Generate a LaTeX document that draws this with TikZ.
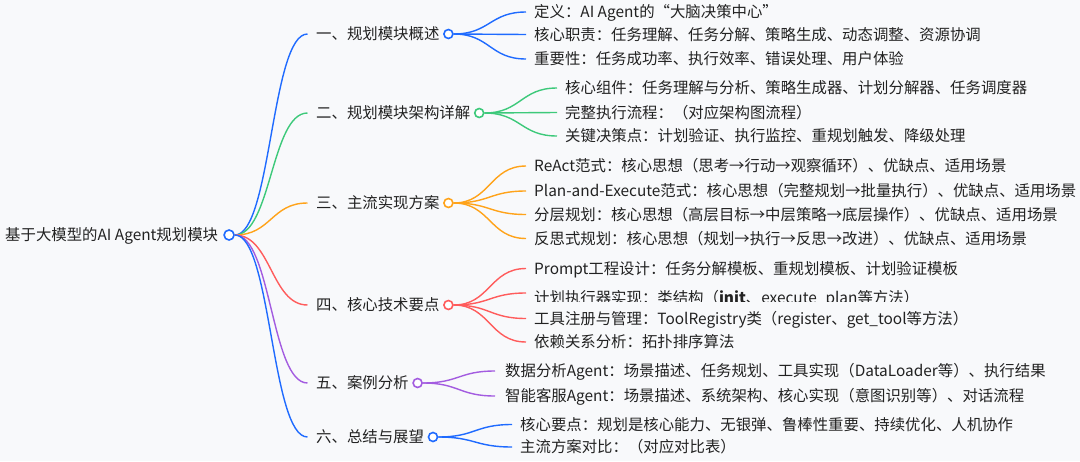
\documentclass[tikz,border=0pt]{standalone}
\usepackage{fontspec}
\setmainfont{Noto Sans CJK SC}
\usetikzlibrary{positioning,calc}
\definecolor{bg}{HTML}{F8F9FB}
\definecolor{ink}{HTML}{222222}
\definecolor{cb}{HTML}{1F6BFF}
\definecolor{cg}{HTML}{3DC97A}
\definecolor{co}{HTML}{FFA31A}
\definecolor{cr}{HTML}{FF5C5C}
\definecolor{cp}{HTML}{A35CE0}
\newcommand\mmlink[3]{\draw[link=#1] let \p1=(#2), \p2=(#3) in (\p1) .. controls ({(\x1+\x2)/2},\y1) and ({(\x1+\x2)/2},\y2) .. (\p2);}
\begin{document}
\begin{tikzpicture}[x=1pt,y=-1pt,
  txt/.style={anchor=west, inner sep=0pt, text height=13pt, text depth=1.5pt, font=\fontsize{15.4}{18}\selectfont, text=ink},
  dot/.style={circle, draw=#1, fill=white, line width=1.6pt, minimum size=9pt, inner sep=0pt},
  link/.style={draw=#1, line width=1.4pt}]
\fill[bg] (0,0) rectangle (1080,461);
\useasboundingbox (0,0) rectangle (1080,461);

% root
\node[txt] (root) at (5,235) {基于大模型的AI Agent规划模块};
\node[dot=cb, minimum size=10pt, right=5pt of root] (rc) {};

% level 1
\node[txt] (n1) at (316,34) {一、规划模块概述};
\node[dot=cb, right=3.5pt of n1] (c1) {};
\node[txt] (n2) at (316,113) {二、规划模块架构详解};
\node[dot=cg, right=3.5pt of n2] (c2) {};
\node[txt] (n3) at (316,203) {三、主流实现方案};
\node[dot=co, right=3.5pt of n3] (c3) {};
\node[txt] (n4) at (316,305) {四、核心技术要点};
\node[dot=cr, right=3.5pt of n4] (c4) {};
\node[txt] (n5) at (316,383) {五、案例分析};
\node[dot=cp, right=3.5pt of n5] (c5) {};
\node[txt] (n6) at (316,437) {六、总结与展望};
\node[dot=cb, right=3.5pt of n6] (c6) {};
\foreach \i in {1,...,6} {\coordinate (s\i) at ([xshift=-8.5pt]n\i.west);}

\mmlink{cb}{rc.east}{s1}
\mmlink{cg}{rc.east}{s2}
\mmlink{co}{rc.east}{s3}
\mmlink{cr}{rc.east}{s4}
\mmlink{cp}{rc.east}{s5}
\mmlink{cb}{rc.east}{s6}

% group 1
\node[txt] (l11) at (534,12) {定义：AI Agent的“大脑决策中心”};
\node[txt] (l12) at (534,34.5) {核心职责：任务理解、任务分解、策略生成、动态调整、资源协调};
\node[txt] (l13) at (534,59) {重要性：任务成功率、执行效率、错误处理、用户体验};
% group 2
\node[txt] (l21) at (565,88) {核心组件：任务理解与分析、策略生成器、计划分解器、任务调度器};
\node[txt] (l22) at (565,112.5) {完整执行流程：（对应架构图流程）};
\node[txt] (l23) at (565,136) {关键决策点：计划验证、执行监控、重规划触发、降级处理};
% group 3
\node[txt] (l31) at (534,166) {ReAct范式：核心思想（思考→行动→观察循环）、优缺点、适用场景};
\node[txt] (l32) at (534,191) {Plan-and-Execute范式：核心思想（完整规划→批量执行）、优缺点、适用场景};
\node[txt] (l33) at (534,214.5) {分层规划：核心思想（高层目标→中层策略→底层操作）、优缺点、适用场景};
\node[txt] (l34) at (534,238.5) {反思式规划：核心思想（规划→执行→反思→改进）、优缺点、适用场景};
% group 4
\node[txt] (l41) at (534,268.5) {Prompt工程设计：任务分解模板、重规划模板、计划验证模板};
\begin{scope}
\clip (520,280) rectangle (1000,301.5);
\node[txt] (l42) at (534,297.5) {计划执行器实现：类结构（\textbf{init}、execute\_plan等方法）};
\end{scope}
\node[txt] (l43) at (534,318.5) {工具注册与管理：ToolRegistry类（register、get\_tool等方法）};
\node[txt] (l44) at (534,342) {依赖关系分析：拓扑排序算法};
% group 5
\node[txt] (l51) at (505,371) {数据分析Agent：场景描述、任务规划、工具实现（DataLoader等）、执行结果};
\node[txt] (l52) at (505,396) {智能客服Agent：场景描述、系统架构、核心实现（意图识别等）、对话流程};
% group 6
\node[txt] (l61) at (520,424.5) {核心要点：规划是核心能力、无银弹、鲁棒性重要、持续优化、人机协作};
\node[txt] (l62) at (520,447) {主流方案对比：（对应对比表）};

% leaf line ends
\foreach \n in {11,12,13,21,22,23,31,32,33,34,41,43,44,61,62} {\coordinate (e\n) at ([xshift=-8pt]l\n.west);}
\foreach \n in {51,52} {\coordinate (e\n) at ([xshift=-10pt]l\n.west);}
\coordinate (e42) at ([xshift=-8pt]l42.west |- 0,293);

\mmlink{cb}{c1.east}{e11}
\mmlink{cb}{c1.east}{e12}
\mmlink{cb}{c1.east}{e13}
\mmlink{cg}{c2.east}{e21}
\mmlink{cg}{c2.east}{e22}
\mmlink{cg}{c2.east}{e23}
\mmlink{co}{c3.east}{e31}
\mmlink{co}{c3.east}{e32}
\mmlink{co}{c3.east}{e33}
\mmlink{co}{c3.east}{e34}
\mmlink{cr}{c4.east}{e41}
\mmlink{cr}{c4.east}{e42}
\mmlink{cr}{c4.east}{e43}
\mmlink{cr}{c4.east}{e44}
\mmlink{cp}{c5.east}{e51}
\mmlink{cp}{c5.east}{e52}
\mmlink{cb}{c6.east}{e61}
\mmlink{cb}{c6.east}{e62}
\end{tikzpicture}
\end{document}
